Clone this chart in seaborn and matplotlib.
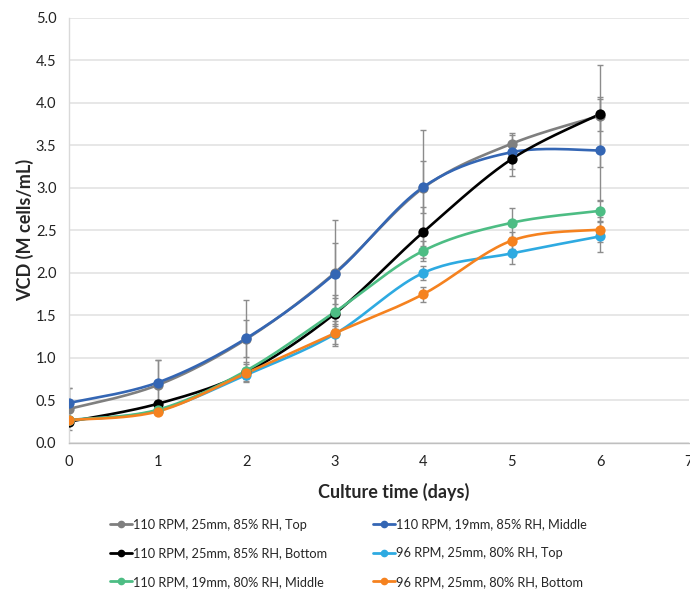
import numpy as np
import pandas as pd
import matplotlib
matplotlib.use("Agg")
import matplotlib.pyplot as plt
from matplotlib.lines import Line2D
import seaborn as sns

days = [0, 1, 2, 3, 4, 5, 6]
series_names = [
    "110 RPM, 25mm, 85% RH, Top",
    "110 RPM, 19mm, 85% RH, Middle",
    "110 RPM, 25mm, 85% RH, Bottom",
    "96 RPM, 25mm, 80% RH, Top",
    "110 RPM, 19mm, 80% RH, Middle",
    "96 RPM, 25mm, 80% RH, Bottom",
]
top_110_25_85 = [0.40, 0.68, 1.22, 2.00, 3.00, 3.52, 3.85]
mid_110_19_85 = [0.47, 0.71, 1.23, 1.99, 3.01, 3.42, 3.44]
bot_110_25_85 = [0.25, 0.46, 0.83, 1.52, 2.48, 3.34, 3.87]
top_96_25_80 = [0.27, 0.38, 0.80, 1.28, 2.00, 2.23, 2.43]
mid_110_19_80 = [0.27, 0.39, 0.85, 1.54, 2.26, 2.59, 2.73]
bot_96_25_80 = [0.27, 0.37, 0.82, 1.29, 1.75, 2.38, 2.51]

err_top_110_25_85 = [0.25, 0.30, 0.46, 0.62, 0.68, 0.13, 0.60]
err_mid_110_19_85 = [0.18, 0.27, 0.22, 0.36, 0.31, 0.20, 0.60]
err_bot_110_25_85 = [0.03, 0.05, 0.10, 0.18, 0.30, 0.20, 0.20]
err_top_96_25_80 = [0.02, 0.03, 0.08, 0.12, 0.08, 0.12, 0.18]
err_mid_110_19_80 = [0.02, 0.03, 0.10, 0.20, 0.12, 0.17, 0.13]
err_bot_96_25_80 = [0.02, 0.03, 0.05, 0.15, 0.09, 0.10, 0.15]

values = [top_110_25_85, mid_110_19_85, bot_110_25_85, top_96_25_80, mid_110_19_80, bot_96_25_80]
errors = [err_top_110_25_85, err_mid_110_19_85, err_bot_110_25_85, err_top_96_25_80, err_mid_110_19_80, err_bot_96_25_80]
colors = ["#7f7f7f", "#3466b4", "#000000", "#2eaae1", "#4dbd84", "#f5821f"]


def smooth(x, y, n=24):
    """Excel-style smoothed line (Catmull-Rom Bezier) through the points."""
    x = np.asarray(x, float)
    y = np.asarray(y, float)
    P = np.column_stack([x, y])
    out = []
    for i in range(len(P) - 1):
        p0 = P[i - 1] if i > 0 else P[i]
        p1 = P[i]
        p2 = P[i + 1]
        p3 = P[i + 2] if i + 2 < len(P) else P[i + 1]
        c1 = p1 + (p2 - p0) / 6.0
        c2 = p2 - (p3 - p1) / 6.0
        t = np.linspace(0, 1, n)[:, None]
        seg = ((1 - t) ** 3) * p1 + 3 * ((1 - t) ** 2) * t * c1 + 3 * (1 - t) * t ** 2 * c2 + t ** 3 * p2
        out.append(seg if i == 0 else seg[1:])
    s = np.vstack(out)
    return s[:, 0], s[:, 1]


sns.set_theme(style="whitegrid")
plt.rcParams["font.family"] = ["Lato", "DejaVu Sans"]

fig = plt.figure(figsize=(6.9, 5.93), dpi=100)
ax = fig.add_axes([0.1, 0.253, 0.8985, 0.717])

for vals, errs in zip(values, errors):
    ax.errorbar(days, vals, yerr=errs, fmt="none", ecolor="#8c8c8c", elinewidth=1.0,
                capsize=2.5, capthick=1.0, zorder=2)

for name, vals, col in zip(series_names, values, colors):
    sx, sy = smooth(days, vals)
    df = pd.DataFrame({"x": sx, "y": sy})
    sns.lineplot(data=df, x="x", y="y", sort=False, color=col, linewidth=1.9, ax=ax,
                 estimator=None, zorder=3)
    dfp = pd.DataFrame({"x": days, "y": vals})
    sns.scatterplot(data=dfp, x="x", y="y", color=col, s=55, edgecolor=col, linewidth=0,
                    ax=ax, zorder=4)

ax.set_xlim(0, 7)
ax.set_ylim(0, 5)
ax.set_xticks(range(0, 8))
ax.set_yticks(np.arange(0, 5.01, 0.5))
ax.set_yticklabels([f"{v:.1f}" for v in np.arange(0, 5.01, 0.5)])
ax.grid(axis="x", visible=False)
ax.grid(axis="y", color="#e3e3e3", linewidth=1.2)
for side in ["top", "right"]:
    ax.spines[side].set_visible(False)
ax.spines["left"].set_color("#d9d9d9")
ax.spines["bottom"].set_color("#bfbfbf")
ax.spines["left"].set_linewidth(1.0)
ax.spines["bottom"].set_linewidth(1.0)
ax.tick_params(axis="both", length=0, labelsize=10.5, colors="#222222", pad=9)
ax.set_xlabel("Culture time (days)", fontsize=13, fontweight="bold")
ax.set_ylabel("VCD (M cells/mL)", fontsize=13, fontweight="bold")
ax.xaxis.set_label_coords(0.524, -0.095)
ax.yaxis.set_label_coords(-0.057, 0.5)

order = [0, 2, 4, 1, 3, 5]
handles = [Line2D([0], [0], color=colors[i], marker="o", markersize=4.5, linewidth=2) for i in order]
labels = [series_names[i] for i in order]
fig.legend(handles, labels, loc="upper left", bbox_to_anchor=(0.152, 0.134), ncol=2,
           frameon=False, fontsize=9.2, handlelength=1.7, handletextpad=0.08,
           columnspacing=3.6, labelspacing=1.3, borderaxespad=0)

fig.savefig("out.png", dpi=100)
